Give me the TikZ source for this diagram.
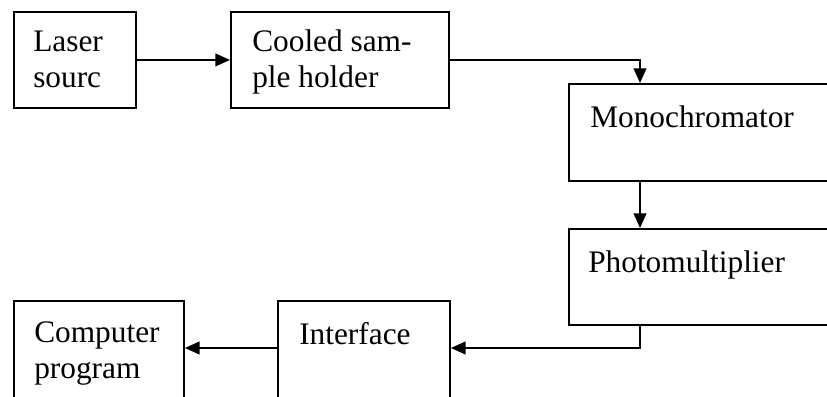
\documentclass[tikz,border=0pt]{standalone}
\usepackage{fontspec}
\setmainfont{Liberation Serif}
\usetikzlibrary{arrows.meta}
\begin{document}
\begin{tikzpicture}[x=0.75pt,y=-0.75pt,
  box/.style={draw=black,line width=1.4pt,rectangle,inner sep=0pt,anchor=north west},
  lbl/.style={inner sep=0pt,anchor=base west,align=left,font=\fontsize{23.5}{27}\selectfont},
  arr/.style={line width=1.4pt,-{Triangle[length=11pt,width=9.5pt]}}]
\useasboundingbox (0,0) rectangle (827,396);
\clip (0,0) rectangle (827,396);
\fill[white] (0,0) rectangle (827,396);
% boxes
\node[box,minimum width=91.5pt,minimum height=72pt] (laser) at (13,11) {};
\node[box,minimum width=163.5pt,minimum height=72pt] (cooled) at (230,11) {};
\node[box,minimum width=210pt,minimum height=72.75pt] (mono) at (568,83) {};
\node[box,minimum width=210pt,minimum height=72pt] (photo) at (568,228) {};
\node[box,minimum width=129pt,minimum height=82pt] (interface) at (277,300) {};
\node[box,minimum width=127.5pt,minimum height=82pt] (computer) at (13,300) {};
% texts (base of last line given)
\node[lbl] (tlaser) at (33,87) {Laser\\sourc};
\node[lbl] (tcooled) at (252,87) {Cooled sam-\\ple holder};
\node[lbl] (tmono) at (590,127) {Monochromator};
\node[lbl] (tphoto) at (588,272) {Photomultiplier};
\node[lbl] (tinter) at (299,344) {Interface};
\node[lbl] (tcomp) at (34,378) {Computer\\program};
% connectors
\draw[arr] (laser.east) -- (cooled.west);
\draw[arr] (cooled.east) -| ([xshift=54pt]mono.north west);
\draw[arr] ([xshift=54pt]mono.south west) -- ([xshift=54pt]photo.north west);
\draw[arr] ([xshift=54pt]photo.south west) |- ([yshift=-36pt]interface.north east);
\draw[arr] ([yshift=-36pt]interface.north west) -- ([yshift=-36pt]computer.north east);
\end{tikzpicture}
\end{document}
